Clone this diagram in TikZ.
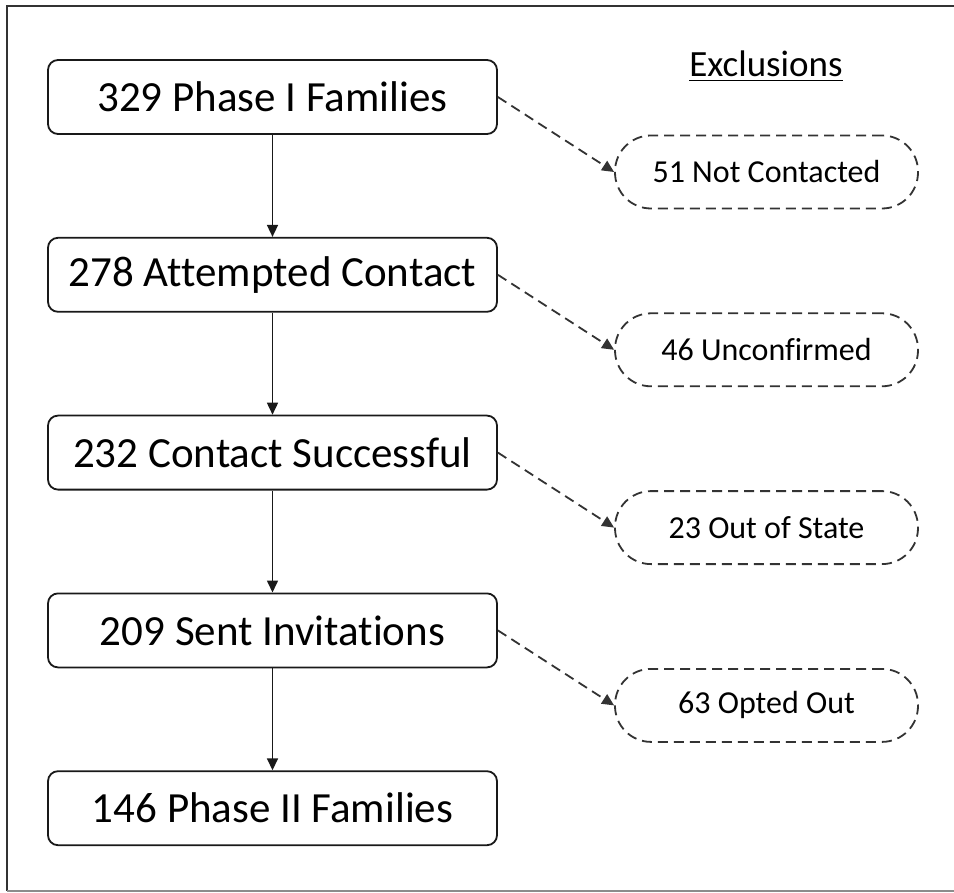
\documentclass[tikz,border=0pt]{standalone}
\usepackage{fontspec}
\setmainfont{Carlito}[Ligatures=NoCommon]
\usetikzlibrary{arrows.meta, positioning}

\begin{document}
\begin{tikzpicture}[x=0.5pt, y=-0.5pt, >={Triangle[length=6pt, width=5.5pt]},
    stage/.style={draw=black!90, line width=0.9pt, rounded corners=5pt,
      minimum width=224.5pt, minimum height=37pt, inner sep=0pt,
      font=\fontsize{21.5}{24}\selectfont},
    excl/.style={draw=black!80, line width=0.9pt, dash pattern=on 5pt off 3pt,
      rounded corners=18pt, minimum width=151.5pt, minimum height=36.5pt,
      inner sep=0pt, font=\fontsize{16}{19}\selectfont},
    flow/.style={->, draw=black!90, line width=0.8pt},
    drop/.style={->, draw=black!80, line width=0.9pt, dash pattern=on 5pt off 3pt}]

      \useasboundingbox (0,0) rectangle (954,893);

      % Outer frame
      \draw[black!80, line width=1pt] (954,6) -- (7,6) -- (7,891);
      \draw[black!45, line width=0.8pt] (7,891) -- (954,891);

      % Main flow of families
      \node[stage] (phaseone) at (272.5,97) {329 Phase I Families};
      \node[stage, below=51pt of phaseone] (attempt) {278 Attempted Contact};
      \node[stage, below=51pt of attempt] (success) {232 Contact Successful};
      \node[stage, below=51pt of success] (invite) {209 Sent Invitations};
      \node[stage, below=51pt of invite] (phasetwo) {146 Phase II Families};

      % Exclusions column
      \node[anchor=base, font=\fontsize{18.5}{21}\selectfont] (head) at (766,77) {\underline{Exclusions}};
      \node[excl] (notcont) at (766.5,172) {51 Not Contacted};
      \node[excl, below=51.5pt of notcont] (unconf) {46 Unconfirmed};
      \node[excl, below=51.5pt of unconf] (outstate) {23 Out of State};
      \node[excl, below=51.5pt of outstate] (optout) {63 Opted Out};

      % Solid arrows down the flow
      \draw[flow] (phaseone) -- (attempt);
      \draw[flow] (attempt) -- (success);
      \draw[flow] (success) -- (invite);
      \draw[flow] (invite) -- (phasetwo);

      % Dashed arrows to exclusions
      \draw[drop] (phaseone.east) -- (notcont.west);
      \draw[drop] (attempt.east) -- (unconf.west);
      \draw[drop] (success.east) -- (outstate.west);
      \draw[drop] (invite.east) -- (optout.west);

    \end{tikzpicture}
\end{document}
